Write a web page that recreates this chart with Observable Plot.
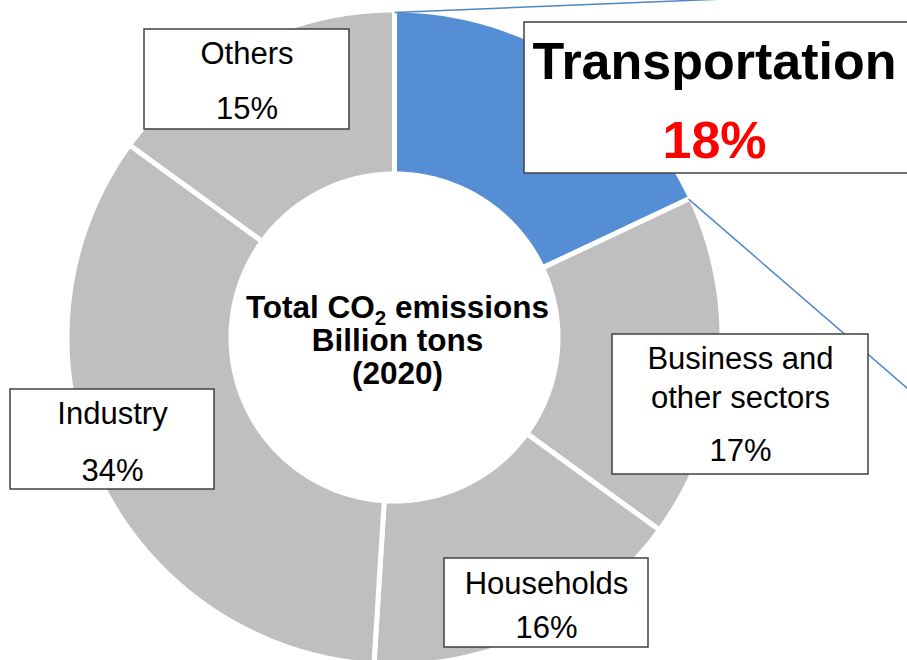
<!DOCTYPE html>
<html>
<head>
<meta charset="utf-8">
<script src="https://cdn.jsdelivr.net/npm/d3@7"></script>
<script src="https://cdn.jsdelivr.net/npm/@observablehq/plot@0.6"></script>
<style>
  body { margin: 0; background: #ffffff; }
  #chart svg { display: block; }
</style>
</head>
<body>
<div id="chart"></div>
<script>
// ---------- DATA ----------
const categories = ["Transportation", "Business and other sectors", "Households", "Industry", "Others"];
const shares = [18, 17, 16, 34, 15];          // percent of total CO2 emissions (2020)
const labelLines = [["Transportation"], ["Business and", "other sectors"], ["Households"], ["Industry"], ["Others"]];
const centerLines = ["Total CO2 emissions", "Billion tons", "(2020)"];
const highlighted = "Transportation";

// ---------- LAYOUT & STYLE ----------
const W = 907, H = 660;
const CX = 394, CY = 337, R_OUT = 325, R_IN = 166, GAP = 5;
const BLUE = "#558ED5", GRAY = "#BFBFBF", LEADER = "#4F86C6", BOX_STROKE = "#404040";
const FONT = "'Liberation Sans', Arial, Helvetica, sans-serif";
// label boxes [x1, y1, x2, y2], text centre x, text baselines, font size (same order as categories)
const boxes = [[524, 22, 912, 173], [612, 334, 868, 474], [444, 558, 648, 647], [10, 389, 214, 489], [144, 29, 349, 129]];
const textX = [714, 740, 546, 112, 246.5];
const baselines = [[78, 157], [368, 407, 460], [593, 637], [423, 480], [63, 118]];
const fontSizes = [52, 31, 31, 31, 31];
const leaderEnds = [[907, -9], [907, 388]];
const centerX = 397, centerLastBaseline = 383, centerSize = 31.5, centerLineStep = 33;

// ---------- DERIVED GEOMETRY ----------
const total = d3.sum(shares);
let acc = 0;
const slices = categories.map((c, i) => {
  const a0 = acc / total * 2 * Math.PI;
  acc += shares[i];
  const a1 = acc / total * 2 * Math.PI;
  return {c, i, a0, a1};
});
const ro = R_OUT + GAP / 2, ri = R_IN - GAP / 2;
const polar = (a, r) => [CX + r * Math.sin(a), CY - r * Math.cos(a)];
const ringPts = slices.flatMap(s => {
  const n = Math.max(8, Math.ceil((s.a1 - s.a0) * 80));
  const color = s.c === highlighted ? BLUE : GRAY;
  const pts = [];
  for (let k = 0; k <= n; k++) {
    const [x, y] = polar(s.a0 + (s.a1 - s.a0) * k / n, ro);
    pts.push({key: s.c, color, x, y});
  }
  for (let k = n; k >= 0; k--) {
    const [x, y] = polar(s.a0 + (s.a1 - s.a0) * k / n, ri);
    pts.push({key: s.c, color, x, y});
  }
  return pts;
});

const hs = slices.find(s => s.c === highlighted);
const leaders = [hs.a0, hs.a1].map((a, k) => {
  const [x1, y1] = polar(a, R_OUT);
  return {x1, y1, x2: leaderEnds[k][0], y2: leaderEnds[k][1]};
});

const boxRows = categories.map((c, i) => ({c, x1: boxes[i][0], y1: boxes[i][1], x2: boxes[i][2], y2: boxes[i][3]}));

const textRows = categories.flatMap((c, i) => {
  const lines = [...labelLines[i], `${shares[i]}%`];
  return lines.map((t, j) => ({
    text: t,
    x: textX[i],
    y: baselines[i][j],
    bold: c === highlighted,
    fill: (c === highlighted && j === lines.length - 1) ? "#FF0000" : "#000000"
  }));
});

const centerRows = [{text: centerLines.join("\n"), x: centerX, y: centerLastBaseline}];

// ---------- PLOT ----------
const chart = Plot.plot({
  width: W,
  height: H,
  margin: 0,
  style: {fontFamily: FONT, background: "#ffffff", overflow: "hidden"},
  x: {domain: [0, W], range: [0, W], axis: null},
  y: {domain: [0, H], range: [0, H], axis: null},
  color: {type: "identity"},
  marks: [
    Plot.line(ringPts, {x: "x", y: "y", z: "key", fill: "color", stroke: "#ffffff", strokeWidth: GAP, curve: "linear-closed", strokeLinejoin: "miter"}),
    Plot.link(leaders, {x1: "x1", y1: "y1", x2: "x2", y2: "y2", stroke: LEADER, strokeWidth: 1.5}),
    Plot.rect(boxRows, {x1: "x1", y1: "y1", x2: "x2", y2: "y2", fill: "#ffffff", stroke: BOX_STROKE, strokeWidth: 1.5}),
    Plot.text(textRows.filter(d => !d.bold), {x: "x", y: "y", text: "text", fontSize: fontSizes[1], fill: "fill", textAnchor: "middle", lineAnchor: "bottom"}),
    Plot.text(textRows.filter(d => d.bold), {x: "x", y: "y", text: "text", fontSize: fontSizes[0], fontWeight: "bold", fill: "fill", textAnchor: "middle", lineAnchor: "bottom"}),
    Plot.text(centerRows, {x: "x", y: "y", text: "text", fontSize: centerSize, fontWeight: "bold", fill: "#000000", textAnchor: "middle", lineAnchor: "bottom", lineHeight: centerLineStep / centerSize})
  ]
});

// subscript the "2" of CO2
d3.select(chart).selectAll("text, tspan").each(function () {
  if (this.childElementCount === 0 && this.textContent === "Total CO2 emissions") {
    const el = d3.select(this);
    el.text(null);
    el.append("tspan").text("Total CO");
    el.append("tspan").attr("font-size", "0.65em").attr("dy", 7).text("2");
    el.append("tspan").attr("dy", -7).text(" emissions");
  }
});

document.getElementById("chart").appendChild(chart);
</script>
</body>
</html>
